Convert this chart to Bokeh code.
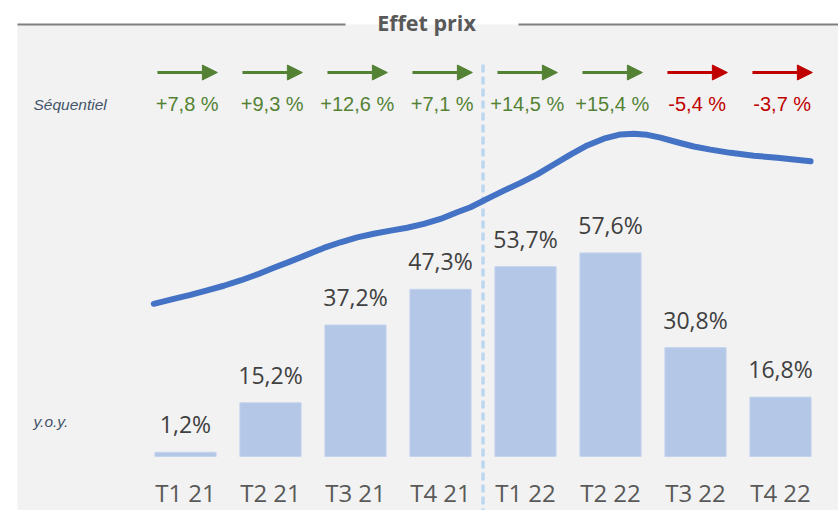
from bokeh.plotting import figure
from bokeh.models import Range1d, ColumnDataSource, Arrow, NormalHead, BoxAnnotation
from bokeh.core.properties import value
from bokeh.embed import file_html
from bokeh.resources import INLINE

# ---------------- data ----------------
categories = ["T1 21", "T2 21", "T3 21", "T4 21", "T1 22", "T2 22", "T3 22", "T4 22"]
yoy = [1.2, 15.2, 37.2, 47.3, 53.7, 57.6, 30.8, 16.8]
seq_change = [7.8, 9.3, 12.6, 7.1, 14.5, 15.4, -5.4, -3.7]
seq_labels = ["+7,8 %", "+9,3 %", "+12,6 %", "+7,1 %", "+14,5 %", "+15,4 %", "-5,4 %", "-3,7 %"]
# price-effect curve (x in quarter units, y in chart units)
price_x = [-0.373, -0.138, 0.059, 0.255, 0.451, 0.647, 0.844, 1.039, 1.235, 1.432,
           1.627, 1.824, 2.020, 2.215, 2.412, 2.608, 2.804, 3.000, 3.196, 3.353,
           3.549, 3.745, 3.941, 4.138, 4.333, 4.529, 4.726, 4.921, 5.118, 5.274,
           5.432, 5.588, 5.785, 5.980, 6.176, 6.412, 6.686, 6.961, 7.353]
price_index = [43.2, 44.6, 45.7, 47.0, 48.3, 49.8, 51.5, 53.4, 55.2, 57.1,
               59.0, 60.6, 62.0, 63.0, 63.9, 64.7, 65.8, 67.2, 69.1, 70.5,
               72.9, 75.2, 77.4, 79.8, 82.6, 85.4, 88.0, 89.9, 91.1, 91.3,
               91.0, 90.2, 88.9, 87.7, 86.8, 85.9, 85.1, 84.5, 83.5]

title_text = "Effet prix"
row_top = "Séquentiel"
row_bottom = "y.o.y."

# ---------------- styling ----------------
GREEN = "#548235"
RED = "#C00000"
BAR = "#B4C7E7"
LINE = "#4472C4"
PANEL = "#F2F2F2"

W, H = 838, 510
PX_X = 85.0     # pixels per category
PX_Y = 3.535    # pixels per percent
X0 = 185        # pixel of first category centre
Y0 = 456        # pixel (from top) of bar baseline

p = figure(width=W, height=H, output_backend="svg", toolbar_location=None,
           x_range=Range1d(-X0 / PX_X, (W - X0) / PX_X),
           y_range=Range1d(-(H - Y0) / PX_Y, Y0 / PX_Y),
           min_border=0)
p.axis.visible = False
p.grid.visible = False
p.outline_line_color = None
p.background_fill_color = "white"
p.border_fill_color = "white"


def dy(screen_y):
    return (Y0 - screen_y) / PX_Y


def dx(screen_x):
    return (screen_x - X0) / PX_X


# grey panel
p.add_layout(BoxAnnotation(left=dx(17), top=dy(24), fill_color=PANEL, fill_alpha=1,
                           line_color=None, level="underlay"))

# title with rules
p.segment(x0=[dx(17), dx(518)], x1=[dx(345), dx(845)], y0=[dy(24)] * 2, y1=[dy(24)] * 2,
          line_color="#7F7F7F", line_width=2)
p.text(x=[dx(426)], y=[dy(22)], text=[title_text], text_align="center", text_baseline="middle",
       text_font=value("Open Sans"), text_font_style="bold", text_font_size="21.5px",
       text_color="#595959")

# separator between years
p.segment(x0=[3.5], x1=[3.5], y0=[dy(64)], y1=[dy(520)], line_color="#BDD7EE",
          line_width=3.5, line_dash="8 4")

xs = list(range(len(categories)))

# bars
LABEL_GAP = 28 / PX_Y
bar_src = ColumnDataSource(dict(x=xs, top=yoy, ly=[v + LABEL_GAP for v in yoy],
                                lab=[f"{v:.1f}%".replace(".", ",") for v in yoy]))
p.vbar(x="x", top="top", bottom=0, width=0.72, source=bar_src, fill_color=BAR,
       line_color="#C5D4EE", line_width=1)
p.text(x="x", y="ly", text="lab", source=bar_src, text_align="center",
       text_baseline="middle", text_font=value("Open Sans"),
       text_font_size="23px", text_color="#404040")

# price curve
p.line(price_x, price_index, line_color=LINE, line_width=6, line_cap="round",
       line_join="round")

# arrows + sequential labels
ay = dy(72)
for sign, col in ((1, GREEN), (-1, RED)):
    idx = [i for i, v in enumerate(seq_change) if (v >= 0) == (sign > 0)]
    if not idx:
        continue
    src = ColumnDataSource(dict(x0=[i - 0.33 for i in idx], x1=[i + 0.375 for i in idx],
                                y=[ay] * len(idx)))
    p.add_layout(Arrow(end=NormalHead(size=15, fill_color=col, line_color=col),
                       x_start="x0", y_start="y", x_end="x1", y_end="y", source=src,
                       line_color=col, line_width=3))
    lsrc = ColumnDataSource(dict(x=[i + 0.02 for i in idx], y=[dy(103)] * len(idx),
                                 t=[seq_labels[i] for i in idx]))
    p.text(x="x", y="y", text="t", source=lsrc, text_align="center",
           text_baseline="middle", text_font=value("Liberation Sans"),
           text_font_size="20px", text_color=col)

# row labels
p.text(x=[dx(33)], y=[dy(104)], text=[row_top], text_align="left", text_baseline="middle",
       text_font=value("Liberation Sans"), text_font_style="italic", text_font_size="15.5px",
       text_color="#44546A")
p.text(x=[dx(33)], y=[dy(421)], text=[row_bottom], text_align="left",
       text_baseline="middle", text_font=value("Liberation Sans"),
       text_font_style="italic", text_font_size="15.5px", text_color="#44546A")

# category labels
cat_src = ColumnDataSource(dict(x=xs, y=[dy(492)] * len(xs), t=categories))
p.text(x="x", y="y", text="t", source=cat_src, text_align="center",
       text_baseline="middle", text_font=value("Open Sans"), text_font_size="24px",
       text_color="#595959")

open("out.html", "w").write(file_html(p, INLINE))
